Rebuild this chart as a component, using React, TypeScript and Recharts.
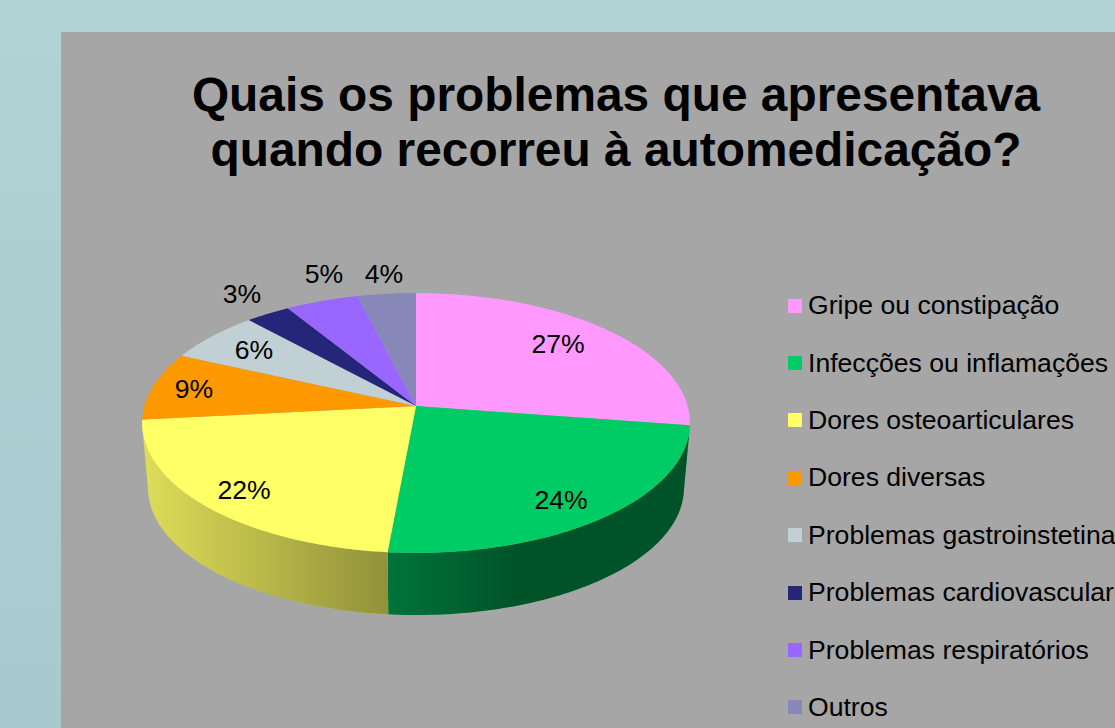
import { PieChart, Pie, Legend } from "recharts";

const categories = [
  "Gripe ou constipação",
  "Infecções ou inflamações",
  "Dores osteoarticulares",
  "Dores diversas",
  "Problemas gastroinstetinais",
  "Problemas cardiovasculares",
  "Problemas respiratórios",
  "Outros",
];
// the labels round these
const percentages = [27.4, 24.1, 21.9, 8.5, 6.4, 3.0, 4.9, 3.9];
const colors = ["#ff99ff", "#00cc66", "#ffff66", "#ff9900", "#c0d0d4", "#25257a", "#9966ff", "#8888b8"];

// label centres relative to the apex of the pie
const labelOffsets = [
  [142, -62], [145, 94], [-172, 84], [-222, -17], [-162, -56], [-174, -112], [-92, -132], [-32, -132],
];

const rows = categories.map((name, i) => ({ name, value: percentages[i], fill: colors[i] }));

const FONT = "'Liberation Sans', Arial, sans-serif";
const TILT = 0.47; // vertical squash of the disc
const K = 0.1308; // perspective, near side is bigger
const DEPTH = 65.4;
const BASE_SCALE = 0.978;

function project(cx: number, cy: number, r: number, deg: number, scale = 1, drop = 0) {
  const u = Math.cos((deg * Math.PI) / 180);
  const v = -Math.sin((deg * Math.PI) / 180);
  const d = 1 - K * v;
  return {
    x: cx + (r * scale * u) / d,
    y: cy + drop + (r * TILT * scale * v) / d,
    v,
  };
}

function slice3d(props: any) {
  const { cx, cy, outerRadius, startAngle, endAngle, fill, index } = props;
  const steps = Math.max(2, Math.ceil(Math.abs(endAngle - startAngle)));
  const angles: number[] = [];
  for (let i = 0; i <= steps; i++) {
    angles.push(startAngle + ((endAngle - startAngle) * i) / steps);
  }
  const rim = angles.map((a) => project(cx, cy, outerRadius, a));
  const top = `M${cx},${cy} ` + rim.map((p) => `L${p.x},${p.y}`).join(" ") + " Z";

  // only the part of the side facing the viewer gets a wall
  const front = angles.filter((a) => -Math.sin((a * Math.PI) / 180) >= K);
  let wall = "";
  if (front.length > 1) {
    const upper = front.map((a) => project(cx, cy, outerRadius, a));
    const lower = front.map((a) => project(cx, cy, outerRadius, a, BASE_SCALE, DEPTH)).reverse();
    wall = "M" + [...upper, ...lower].map((p) => `${p.x},${p.y}`).join(" L") + " Z";
  }
  const gid = `wallShade${index}`;

  return (
    <g>
      <defs>
        <linearGradient id={gid} gradientUnits="userSpaceOnUse" x1={cx - 275} x2={cx + 274} y1={0} y2={0}>
          <stop offset="0" stopColor="#000" stopOpacity={0.13} />
          <stop offset="0.447" stopColor="#000" stopOpacity={0.43} />
          <stop offset="0.69" stopColor="#000" stopOpacity={0.6} />
          <stop offset="1" stopColor="#000" stopOpacity={0.6} />
        </linearGradient>
      </defs>
      {wall && <path d={wall} fill={fill} />}
      {wall && <path d={wall} fill={`url(#${gid})`} />}
      <path d={top} fill={fill} />
    </g>
  );
}

function sliceLabel(props: any) {
  const { cx, cy, index, value } = props;
  const [dx, dy] = labelOffsets[index];
  return (
    <text
      key={index}
      x={cx + dx}
      y={cy + dy}
      textAnchor="middle"
      dominantBaseline="central"
      fontFamily={FONT}
      fontSize={26.6}
      fill="#000"
    >
      {Math.round(value)}%
    </text>
  );
}

function legendList({ payload }: any) {
  return (
    <div style={{ fontFamily: FONT, fontSize: 26.6, color: "#000", whiteSpace: "nowrap" }}>
      {(payload || []).map((item: any) => (
        <div key={item.value} style={{ height: 57.4, display: "flex", alignItems: "center" }}>
          <span style={{ width: 14, height: 14, marginRight: 6, background: item.color, flex: "none" }} />
          {item.value}
        </div>
      ))}
    </div>
  );
}

export default function App() {
  return (
    <div
      style={{
        position: "fixed",
        left: 0,
        top: 0,
        width: 1115,
        height: 728,
        overflow: "hidden",
        background: "linear-gradient(180deg, #b0d3d5 0%, #a6cacd 100%)",
      }}
    >
      <div style={{ position: "absolute", left: 61, top: 32, width: 1054, height: 696, background: "#a6a6a6" }} />
      <div
        style={{
          position: "absolute",
          left: 116,
          top: 67,
          width: 1000,
          textAlign: "center",
          fontFamily: FONT,
          fontWeight: 700,
          fontSize: 47.85,
          lineHeight: "55px",
          color: "#000",
        }}
      >
        Quais os problemas que apresentava
        <br />
        quando recorreu à automedicação?
      </div>
      <div style={{ position: "absolute", left: 0, top: 0 }}>
        <PieChart width={1115} height={728} margin={{ top: 0, right: 0, bottom: 0, left: 0 }}>
          <Pie
            data={rows}
            dataKey="value"
            nameKey="name"
            cx={416}
            cy={406}
            outerRadius={271.6}
            startAngle={90}
            endAngle={-270}
            stroke="none"
            shape={slice3d}
            label={sliceLabel}
            labelLine={false}
            isAnimationActive={false}
          />
          <Legend
            layout="vertical"
            align="right"
            verticalAlign="top"
            itemSorter={null}
            content={legendList}
            wrapperStyle={{ left: 788, top: 277, right: "auto", width: 400 }}
          />
        </PieChart>
      </div>
    </div>
  );
}
